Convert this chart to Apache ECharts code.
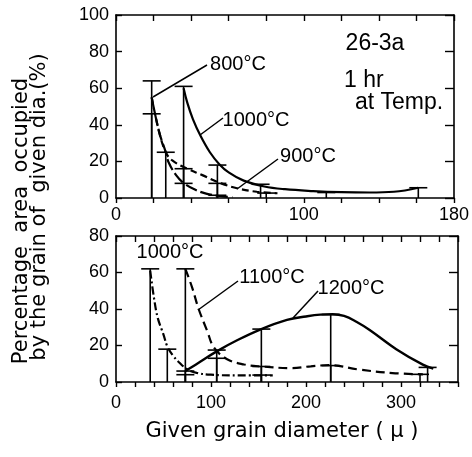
<!DOCTYPE html>
<html>
<head>
<meta charset="utf-8">
<script src="https://cdn.jsdelivr.net/npm/echarts@6/dist/echarts.min.js"></script>
<style>
  html, body { margin: 0; padding: 0; background: #fff; }
  #chart { width: 472px; height: 457px; }
</style>
</head>
<body>
<div id="chart"></div>
<script>
// ---- Upper panel: anneals at 800, 900, 1000 °C (diameter 0–180 μ) ----
const upperLabelTicks = [0, 100, 180];
const curve800 = [[19, 55], [23, 36], [26.5, 25], [28, 19.5], [32, 12.5], [36, 8.2], [42, 4.6], [48, 2.4], [55, 1.1], [62, 0.5]];
const curve900 = [[19, 55], [23, 36], [26.5, 25], [30, 20.5], [38, 16], [46, 12.5], [56, 8], [65, 5.2], [75, 3.4], [86, 2.6]];
const curve1000a = [[36, 60], [38, 52], [41, 43], [45, 34], [50, 25], [55, 18.5], [60, 14], [68, 9.5], [79, 6.3], [90, 4.8], [105, 3.8], [120, 3.2], [135, 3.0], [148, 3.4], [161, 5.6]];
const stems800 = [[19, 64], [36, 8], [54, 1.5]];
const stems900 = [[19, 46], [26.5, 25], [36, 16], [54, 8], [80, 2.7]];
const stems1000a = [[36, 61], [54, 18], [77, 7.5], [112, 3], [161, 5.6]];

// ---- Lower panel: anneals at 1000, 1100, 1200 °C (diameter 0–360 μ) ----
const lowerLabelTicks = [0, 100, 200, 300];
const curve1000b = [[36, 61], [40, 46], [44, 35], [50, 26], [54, 19.5], [60, 14.5], [66, 11], [75, 7], [85, 5], [100, 4], [130, 3.6], [165, 3.6]];
const curve1100 = [[73, 62], [80, 52], [87, 40], [96, 28], [103, 19], [117, 12.5], [135, 9.6], [153, 8.5], [185, 7.6], [205, 8.6], [224, 9.2], [256, 6.8], [291, 4.9], [323, 4.2]];
const curve1200 = [[73, 6], [89, 11.2], [106, 16.8], [128, 23], [153, 29], [180, 34], [200, 35.9], [215, 36.9], [228, 37.1], [240, 36.2], [253, 33], [267, 28.5], [295, 18], [323, 9.5], [334, 7.3]];
const stems1000b = [[36, 62], [54, 18], [73, 4], [153, 3.8]];
const stems1100 = [[73, 62], [106, 13], [153, 8.5], [226, 9], [320, 4.2]];
const stems1200 = [[73, 6], [106, 17.5], [153, 29], [226, 37], [328, 8]];

const INK = '#000';
const tickFont = { color: INK, fontFamily: 'Liberation Sans', fontSize: 18 };

// vertical stem from the axis up to the measured value, capped with a short bar
function stemSeries(data, gi) {
  return {
    type: 'custom', xAxisIndex: gi * 2, yAxisIndex: gi * 2, data: data,
    silent: true, z: 3,
    encode: { x: 0, y: 1 },
    renderItem: function (params, api) {
      const base = api.coord([api.value(0), 0]);
      const top = api.coord([api.value(0), api.value(1)]);
      const st = { stroke: INK, lineWidth: 1.6 };
      return {
        type: 'group',
        children: [
          { type: 'line', shape: { x1: base[0], y1: base[1], x2: top[0], y2: top[1] }, style: st },
          { type: 'line', shape: { x1: top[0] - 9, y1: top[1], x2: top[0] + 9, y2: top[1] }, style: st }
        ]
      };
    }
  };
}

function curveSeries(data, gi, dash, width) {
  return {
    type: 'line', xAxisIndex: gi * 2, yAxisIndex: gi * 2, data: data,
    smooth: 0.4, showSymbol: false, silent: true, z: 4,
    lineStyle: { color: INK, width: width, type: dash }
  };
}

const frameLine = { show: true, onZero: false, lineStyle: { color: INK, width: 1.6 } };
const tickStyle = { color: INK, width: 1.4 };

function xAxes(gi, max, labels, labelMargin) {
  return [
    {
      type: 'value', gridIndex: gi, position: 'bottom', min: 0, max: max, interval: 20,
      axisLine: frameLine, splitLine: { show: false },
      axisTick: { show: true, inside: false, length: 5, lineStyle: tickStyle },
      axisLabel: Object.assign({ margin: labelMargin, showMaxLabel: true,
        formatter: function (v) { return labels.indexOf(v) >= 0 ? String(v) : ''; } }, tickFont)
    },
    {
      type: 'value', gridIndex: gi, position: 'top', min: 0, max: max, interval: 20,
      axisLine: frameLine, splitLine: { show: false },
      axisTick: { show: true, inside: true, length: 6, lineStyle: tickStyle },
      axisLabel: { show: false }
    }
  ];
}

function yAxes(gi, max) {
  return [
    {
      type: 'value', gridIndex: gi, position: 'left', min: 0, max: max, interval: 20,
      axisLine: frameLine, splitLine: { show: false },
      axisTick: { show: true, inside: true, length: 6, lineStyle: tickStyle },
      axisLabel: Object.assign({ margin: 7 }, tickFont)
    },
    {
      type: 'value', gridIndex: gi, position: 'right', min: 0, max: max, interval: 20,
      axisLine: frameLine, splitLine: { show: false },
      axisTick: { show: true, inside: true, length: 9, lineStyle: tickStyle },
      axisLabel: { show: false }
    }
  ];
}

function note(text, x, y, size, align) {
  return {
    type: 'text', x: x, y: y, silent: true, z: 10,
    style: { text: text, fill: INK, font: size + 'px "Liberation Sans"', align: align || 'center', verticalAlign: 'middle' }
  };
}
function leader(x1, y1, x2, y2) {
  return { type: 'line', silent: true, z: 10, shape: { x1: x1, y1: y1, x2: x2, y2: y2 }, style: { stroke: INK, lineWidth: 1.5 } };
}
function title(text, x, y, rot) {
  return {
    type: 'text', x: x, y: y, rotation: rot, silent: true, z: 10,
    style: { text: text, fill: INK, font: '21px "DejaVu Sans"', align: 'center', verticalAlign: 'middle' }
  };
}

const chart = echarts.init(document.getElementById('chart'), null, { renderer: 'canvas' });
chart.setOption({
  animation: false,
  backgroundColor: '#fff',
  grid: [
    { left: 116, right: 14, top: 15, height: 183 },
    { left: 116, right: 14, top: 236, height: 146 }
  ],
  xAxis: xAxes(0, 180, upperLabelTicks, 8).concat(xAxes(1, 360, lowerLabelTicks, 12)),
  yAxis: yAxes(0, 100).concat(yAxes(1, 80)),
  series: [
    stemSeries(stems800, 0), stemSeries(stems900, 0), stemSeries(stems1000a, 0),
    curveSeries(curve800, 0, [12, 4], 2.2),
    curveSeries(curve900, 0, [7, 4], 2.2),
    curveSeries(curve1000a, 0, 'solid', 2.2),
    stemSeries(stems1000b, 1), stemSeries(stems1100, 1), stemSeries(stems1200, 1),
    curveSeries(curve1000b, 1, [8, 3, 2, 3], 2.2),
    curveSeries(curve1100, 1, [9, 5], 2.2),
    curveSeries(curve1200, 1, 'solid', 2.4)
  ],
  graphic: [
    note('800°C', 238, 64, 20), leader(153, 97, 207, 65),
    note('1000°C', 256, 120, 20), leader(200, 135, 223, 118),
    note('900°C', 308, 156, 20), leader(237, 189, 278, 159),
    note('26-3a', 375, 44, 23),
    note('1 hr', 344, 81, 23, 'left'),
    note('at Temp.', 355, 103, 23, 'left'),
    note('1000°C', 170, 252, 20),
    note('1100°C', 272, 277, 20), leader(198, 310, 238, 281),
    note('1200°C', 351, 288, 20), leader(293, 318, 318, 291),
    title('Percentage  area  occupied', 22, 221, Math.PI / 2),
    title('by the grain of  given dia.(%)', 40, 207, Math.PI / 2),
    title('Given grain diameter ( μ )', 282, 432, 0)
  ]
});
</script>
</body>
</html>
